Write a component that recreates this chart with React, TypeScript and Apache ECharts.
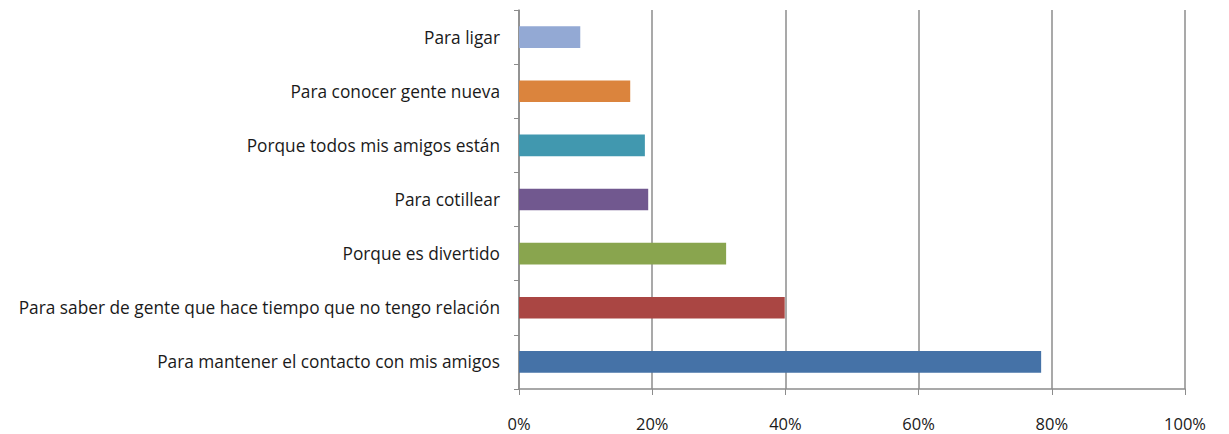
import React, { useEffect, useRef } from "react";
import * as echarts from "echarts";

const categories = [
  "Para mantener el contacto con mis amigos",
  "Para saber de gente que hace tiempo que no tengo relación",
  "Porque es divertido",
  "Para cotillear",
  "Porque todos mis amigos están",
  "Para conocer gente nueva",
  "Para ligar",
];
const values = [78.4, 39.9, 31.1, 19.4, 18.9, 16.7, 9.2];
const colors = ["#4572A7", "#AA4643", "#89A54E", "#71588F", "#4198AF", "#DB843D", "#93A9D4"];
const xTicks = [0, 20, 40, 60, 80, 100];

export default function App() {
  const ref = useRef<HTMLDivElement>(null);
  useEffect(() => {
    const chart = echarts.init(ref.current!, null, { renderer: "svg" });
    chart.setOption({
      animation: false,
      backgroundColor: "#ffffff",
      grid: { left: 519, right: 44, top: 10, bottom: 45 },
      xAxis: {
        type: "value",
        min: xTicks[0],
        max: xTicks[xTicks.length - 1],
        interval: 20,
        axisLine: { show: true, lineStyle: { color: "#8c8c8c", width: 1.5 } },
        axisTick: { show: true, length: 6, lineStyle: { color: "#8c8c8c" } },
        splitLine: { show: true, lineStyle: { color: "#8c8c8c", width: 1.5 } },
        axisLabel: {
          formatter: (v: number) => v + "%",
          color: "#1a1a1a",
          fontFamily: "Open Sans",
          fontSize: 16.5,
          margin: 26,
        },
      },
      yAxis: {
        type: "category",
        data: categories,
        axisLine: { show: true, lineStyle: { color: "#8c8c8c", width: 1.5 } },
        axisTick: { show: true, length: 5, alignWithLabel: false, lineStyle: { color: "#8c8c8c" } },
        axisLabel: {
          color: "#1a1a1a",
          fontFamily: "Open Sans",
          fontSize: 17.3,
          margin: 19,
        },
      },
      series: [
        {
          type: "bar",
          data: values.map((v, i) => ({ value: v, itemStyle: { color: colors[i] } })),
          barCategoryGap: "60%",
        },
      ],
    });
    return () => chart.dispose();
  }, []);
  return (
    <div
      ref={ref}
      style={{ position: "absolute", left: 0, top: 0, width: 1229, height: 434 }}
    />
  );
}
